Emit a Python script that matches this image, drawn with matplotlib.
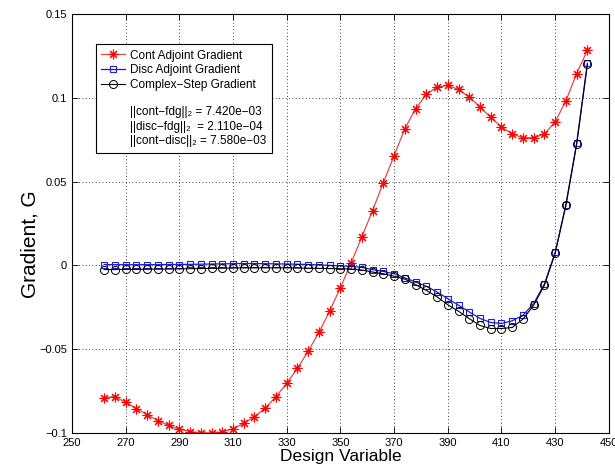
import matplotlib
matplotlib.use('Agg')
import matplotlib.pyplot as plt
import numpy as np
from matplotlib.lines import Line2D

plt.rcParams['font.family'] = ['Liberation Sans', 'DejaVu Sans']

# design variable index
design_var = list(range(262, 443, 4))

cont_adjoint = [-0.0790, -0.0784, -0.0818, -0.0855, -0.0891, -0.0927, -0.0956, -0.0978,
                -0.0992, -0.1000, -0.1000, -0.0994, -0.0976, -0.0943, -0.0903, -0.0852,
                -0.0784, -0.0704, -0.0615, -0.0512, -0.0400, -0.0273, -0.0133, 0.0014,
                0.0171, 0.0327, 0.0494, 0.0655, 0.0815, 0.0935, 0.1021, 0.1065,
                0.1074, 0.1050, 0.1004, 0.0946, 0.0883, 0.0827, 0.0784, 0.0762,
                0.0762, 0.0784, 0.0857, 0.0982, 0.1145, 0.1284]

disc_adjoint = [0.0005, 0.0004, 0.0004, 0.0004, 0.0004, 0.0004, 0.0005, 0.0005,
                0.0006, 0.0007, 0.0008, 0.0009, 0.0010, 0.0011, 0.0011, 0.0010,
                0.0009, 0.0008, 0.0007, 0.0005, 0.0003, 0.0000, -0.0003, -0.0006,
                -0.0012, -0.0026, -0.0036, -0.0050, -0.0075, -0.0099, -0.0125, -0.0159,
                -0.0199, -0.0238, -0.0278, -0.0317, -0.0341, -0.0347, -0.0331, -0.0298,
                -0.0228, -0.0111, 0.0077, 0.0363, 0.0728, 0.1207]

complex_step = [-0.0025, -0.0025, -0.0024, -0.0024, -0.0023, -0.0023, -0.0022, -0.0021,
                -0.0020, -0.0019, -0.0018, -0.0017, -0.0016, -0.0015, -0.0015, -0.0015,
                -0.0015, -0.0015, -0.0016, -0.0017, -0.0018, -0.0019, -0.0020, -0.0022,
                -0.0028, -0.0040, -0.0050, -0.0065, -0.0082, -0.0115, -0.0149, -0.0188,
                -0.0235, -0.0274, -0.0318, -0.0359, -0.0377, -0.0377, -0.0371, -0.0321,
                -0.0238, -0.0118, 0.0072, 0.0358, 0.0722, 0.1200]

norm_labels = ['||cont\u2212fdg||\u2082 = 7.420e\u221203',
               '||disc\u2212fdg||\u2082  = 2.110e\u221204',
               '||cont\u2212disc||\u2082 = 7.580e\u221203']

xticks = list(range(250, 451, 20))
yticks = [-0.1, -0.05, 0, 0.05, 0.1, 0.15]
ytick_labels = ['\u22120.1', '\u22120.05', '0', '0.05', '0.1', '0.15']

fig = plt.figure(figsize=(6.15, 4.71), dpi=100)
ax = fig.add_axes([0.117, 0.081, 0.873, 0.889])

asterisk = (8, 2, 0)
l1, = ax.plot(design_var, cont_adjoint, '-', color='#e04848', lw=0.9,
              marker=asterisk, ms=7, mec='red', mfc='red', mew=0.8)
l2, = ax.plot(design_var, disc_adjoint, '-', color='#1a1ad0', lw=0.9,
              marker='s', ms=5, mec='#2020c0', mfc='none', mew=0.8)
l3, = ax.plot(design_var, complex_step, '-', color='black', lw=0.8,
              marker='o', ms=5.8, mec='black', mfc='none', mew=0.7)

ax.set_xlim(250, 450)
ax.set_ylim(-0.1, 0.15)
ax.set_xticks(xticks)
ax.set_yticks(yticks)
ax.set_yticklabels(ytick_labels)
ax.tick_params(direction='in', top=True, right=True, length=4, labelsize=8, width=0.6)
ax.grid(True, color='black', linestyle=(0, (1, 3)), linewidth=0.6)
for s in ax.spines.values():
    s.set_linewidth(0.8)

ax.set_xlabel('Design Variable', fontsize=12.5, labelpad=1)
ax.set_ylabel('Gradient, G', fontsize=15)
ax.yaxis.set_label_coords(-0.06, 0.45)

blank = Line2D([], [], linestyle='none')
handles = [l1, l2, l3, blank, blank, blank, blank]
labels = ['Cont Adjoint Gradient', 'Disc Adjoint Gradient', 'Complex\u2212Step Gradient',
          ' '] + norm_labels
leg = ax.legend(handles, labels, loc='upper left', bbox_to_anchor=(0.044, 0.928),
                borderaxespad=0, fontsize=8.5, fancybox=False, edgecolor='black',
                framealpha=1, handlelength=2.0, handletextpad=0.5, labelspacing=0.22,
                borderpad=0.45)
leg.get_frame().set_linewidth(0.8)
leg.get_texts()[3].set_fontsize(5)

fig.savefig('out.png', dpi=100)
